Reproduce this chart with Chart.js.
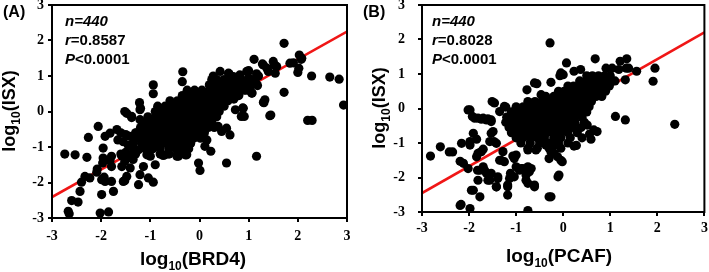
<!DOCTYPE html>
<html><head><meta charset="utf-8">
<script src="https://cdn.jsdelivr.net/npm/chart.js@4/dist/chart.umd.min.js"></script>
<style>
html,body{margin:0;padding:0;background:#fff;width:709px;height:272px;overflow:hidden}
canvas{position:absolute;top:0}
#ca{left:0}
#cb{left:355px}
</style></head><body>
<canvas id="ca" width="355" height="272"></canvas>
<canvas id="cb" width="354" height="272"></canvas>
<script>
// ---------- DATA ----------
const tickValues = [-3, -2, -1, 0, 1, 2, 3];
const titleXA = ['log', '10', '(BRD4)'];
const titleXB = ['log', '10', '(PCAF)'];
const titleY = ['log', '10', '(ISX)'];
const statsA = ['n=440', '0.8587', '0.0001'];
const statsB = ['n=440', '0.8028', '0.0001'];
const fitXA = [-3, 3];
const fitYA = [-2.41, 2.25];
const fitXB = [-3, 3];
const fitYB = [-2.45, 2.21];

// Panel A: log10(BRD4) vs log10(ISX)
const pointsA = [
 [-2.74,-1.2],[-2.53,-1.22],[-2.29,-1.29],[-2.26,-0.73],[-2.06,-0.42],[-1.96,-1.03],[-1.92,-0.7],[-1.82,-0.61],
 [-1.79,-1.26],[-1.68,-0.51],[-1.48,-0.05],[-1.21,0.05],[-1.38,-0.17],[-1.21,-0.23],[-1.58,-1.55],[-1.41,-1.59],
 [-2.33,-1.83],[-2.4,-1.99],[-2.23,-1.87],[-2.09,-1.71],[-1.99,-1.92],[-1.96,-1.31],[-1.79,-1.55],[-1.92,-1.97],
 [-1.79,-1.97],[-1.75,-2.25],[-1.99,-2.34],[-2.43,-2.25],[-2.6,-2.51],[-2.47,-2.55],[-2.67,-2.81],[-2.65,-2.88],
 [-2.02,-2.86],[-1.85,-2.83],[-1.24,-2.06],[-0.94,-1.99],[-1.04,-1.87],[-1.14,-1.55],[-1.21,-1.78],[-1.48,-1.83],
 [-1.55,-1.97],[-1.52,-1.41],[-1.41,-1.26],[-1.35,-1.03],[-1.24,-1.08],[-1.07,-1.22],[-1.0,-1.26],[-0.74,-1.24],
 [-0.46,-1.26],[-0.29,-1.22],[-0.02,-1.45],[0.01,-1.66],[0.23,-1.12],[0.55,-1.45],
 [-1.6,-0.6],[-1.5,-0.65],[-1.42,-0.7],[-1.3,-0.75],[-1.55,-0.85],[-1.45,-0.95],[-1.35,-0.9],[-1.6,-1.2],
 [-1.5,-1.15],[-1.45,-1.3],[-1.35,-1.35],[-1.3,-1.2],[-2.08,-1.62],[-1.97,-1.45],[-1.94,-1.85],[-1.82,-1.39],
 [-1.66,-0.8],[-1.58,-1.25],[-1.52,-1.95],[-1.35,-1.17],[-1.28,-0.6],[-1.22,0.25],[-1.2,0.09],[-1.14,-0.98],
 [-1.07,-1.1],[-0.94,0.75],[-0.94,0.5],[-0.9,-1.5],[-1.52,0.0],[-1.38,-0.14],
 [-0.34,1.12],[-0.35,0.84],[0.28,1.0],[0.42,1.13],[0.6,1.06],[0.73,0.05],[0.85,-0.14],[0.89,0.09],
 [0.93,0.85],[1.0,1.15],[1.11,1.47],[1.16,-1.26],[1.07,0.52],[1.33,0.33],[1.31,0.25],[1.45,-0.1],
 [1.52,1.31],[1.54,1.08],[1.72,1.92],[1.72,0.54],[1.91,1.37],[2.02,1.22],[2.03,1.59],[2.07,1.47],
 [2.0,1.1],[2.28,1.0],[2.2,-0.25],[2.29,-0.25],[2.65,0.97],[2.84,0.91],[2.93,0.18],[1.37,1.22],
 [1.28,1.34],[1.16,1.06],[0.59,1.08],[0.69,0.98],[0.82,1.03],[0.96,1.13],[1.3,1.31],[1.4,1.13],
 [1.5,1.41],[1.57,1.27],[1.84,1.36],[2.08,1.5],[1.43,-0.12],[1.3,0.26],[1.18,0.73],[1.06,0.52],
 [0.91,-0.14],[0.88,0.1],[1.1,0.9],[1.2,1.0],[1.0,0.95],[1.15,0.8],[0.9,0.6],[1.0,0.7],[0.8,0.45],[0.7,0.35],
 [0.28,-0.14],[0.38,-0.42],[0.45,-0.56],[0.62,-0.66],[0.55,-0.47],[0.15,-0.8],[0.11,-0.98],[-0.26,-1.22],
 [-0.43,-1.26],[-0.7,-1.22],
 // dense core, row by row
 [0.25,0.9],[0.35,0.9],[0.5,0.9],[0.62,0.9],[0.75,0.9],[0.85,0.9],
 [0.2,0.75],[0.32,0.75],[0.45,0.75],[0.55,0.75],[0.7,0.75],[0.8,0.75],[0.95,0.75],[1.05,0.75],
 [-0.25,0.6],[-0.1,0.6],[0.05,0.6],[0.2,0.6],[0.3,0.6],[0.42,0.6],[0.55,0.6],[0.68,0.6],[0.82,0.6],[0.95,0.6],
 [-0.35,0.45],[-0.2,0.45],[-0.05,0.45],[0.08,0.45],[0.2,0.45],[0.33,0.45],[0.45,0.45],[0.6,0.45],[0.75,0.45],
 [-0.6,0.3],[-0.45,0.3],[-0.3,0.3],[-0.18,0.3],[-0.05,0.3],[0.08,0.3],[0.2,0.3],[0.32,0.3],[0.45,0.3],[0.58,0.3],
 [-0.85,0.15],[-0.7,0.15],[-0.55,0.15],[-0.4,0.15],[-0.28,0.15],[-0.15,0.15],[0,0.15],[0.12,0.15],[0.25,0.15],[0.38,0.15],[0.5,0.15],
 [-0.9,0.0],[-0.75,0.0],[-0.6,0.0],[-0.48,0.0],[-0.35,0.0],[-0.22,0.0],[-0.1,0.0],[0.02,0.0],[0.15,0.0],[0.28,0.0],[0.4,0.0],
 [-1.05,-0.15],[-0.9,-0.15],[-0.78,-0.15],[-0.65,-0.15],[-0.52,-0.15],[-0.4,-0.15],[-0.28,-0.15],[-0.15,-0.15],[-0.02,-0.15],[0.1,-0.15],[0.22,-0.15],[0.35,-0.15],
 [-1.12,-0.3],[-1.0,-0.3],[-0.88,-0.3],[-0.75,-0.3],[-0.62,-0.3],[-0.5,-0.3],[-0.38,-0.3],[-0.25,-0.3],[-0.12,-0.3],[0,-0.3],[0.12,-0.3],[0.25,-0.3],
 [-1.2,-0.45],[-1.08,-0.45],[-0.95,-0.45],[-0.82,-0.45],[-0.7,-0.45],[-0.58,-0.45],[-0.45,-0.45],[-0.32,-0.45],[-0.2,-0.45],[-0.08,-0.45],[0.05,-0.45],[0.18,-0.45],[0.3,-0.45],
 [-1.3,-0.6],[-1.15,-0.6],[-1.02,-0.6],[-0.9,-0.6],[-0.78,-0.6],[-0.65,-0.6],[-0.52,-0.6],[-0.4,-0.6],[-0.28,-0.6],[-0.15,-0.6],[-0.02,-0.6],[0.1,-0.6],
 [-1.25,-0.75],[-1.12,-0.75],[-1.0,-0.75],[-0.88,-0.75],[-0.75,-0.75],[-0.62,-0.75],[-0.5,-0.75],[-0.38,-0.75],[-0.25,-0.75],[-0.12,-0.75],[0.02,-0.75],
 [-1.18,-0.9],[-1.05,-0.9],[-0.92,-0.9],[-0.8,-0.9],[-0.68,-0.9],[-0.55,-0.9],[-0.42,-0.9],[-0.3,-0.9],[-0.18,-0.9],
 [-1.1,-1.05],[-0.95,-1.05],[-0.8,-1.05],[-0.62,-1.05],[-0.48,-1.05],[-0.35,-1.05],[-0.22,-1.05],
 [-0.8,-1.2],[-0.62,-1.2],[-0.45,-1.2],[-0.3,-1.2]
];

// Panel B: log10(PCAF) vs log10(ISX)
const pointsB = [
 [-2.82,-1.38],[-2.61,-1.11],[-2.42,-1.26],[-2.35,-1.26],[-2.19,-1.53],[-2.12,-1.59],[-2.16,-1.01],[-2.17,-2.78],
 [-2.19,-2.81],[-1.98,-2.9],[-1.95,-2.37],[-2.02,-1.74],[-1.98,-1.06],[-2.02,-0.04],[-1.93,-0.23],[-1.81,-0.28],
 [-1.7,-0.28],[-1.6,-0.3],[-1.77,-2.56],[-1.81,-2.08],[-1.82,-1.79],[-1.84,-1.4],[-1.74,-1.25],[-1.7,-1.69],
 [-1.63,-1.88],[-1.56,-2.08],[-1.53,-0.33],[-1.51,0.2],[-1.49,-0.67],[-1.47,-0.96],[-1.42,-2.27],[-1.39,-2.03],
 [-1.32,-1.5],[-1.28,-1.25],[-1.22,0.04],[-1.18,-2.51],[-1.18,-2.22],[-1.12,-1.88],[-1.07,-1.38],[-1.0,-1.69],
 [-0.89,-1.74],[-0.82,-1.79],[-0.75,-1.69],[-0.68,-1.74],[-0.79,-2.08],[-0.75,-2.17],[-0.61,-2.22],[-0.75,-2.96],
 [-0.77,0.54],[-0.61,0.74],[-0.56,0.72],[-0.47,0.4],[-0.37,0.35],[-0.26,0.76],[-0.28,1.9],[-0.26,-2.56],
 [-0.3,-1.45],[-0.19,-1.3],[-0.12,-1.4],[-0.02,-1.54],[-0.11,-1.98],[-0.07,0.95],[0.0,0.98],[0.07,1.32],
 [0.23,1.08],[0.37,1.13],[-0.05,1.03],[0.23,-1.09],[0.28,-1.07],[0.51,-0.48],[0.65,-0.62],[0.72,-0.67],
 [0.56,-0.74],[0.59,-0.89],[0.68,1.44],[0.51,0.83],[1.04,1.17],[1.21,1.37],[1.35,1.44],[1.39,1.17],
 [1.56,1.08],[1.95,1.17],[1.91,0.79],[1.32,0.83],[1.18,1.13],[1.11,-0.23],[1.32,-0.33],[2.37,-0.46],
 [1.04,0.79],[0.93,0.62],[0.85,0.85],[0.91,1.17],[1.34,1.17],
 [-1.98,-0.96],[-1.91,-0.72],[-1.84,-0.89],[-1.81,-1.3],[-1.7,-1.18],[-1.56,-0.96],[-1.53,-0.72],[-1.42,-1.01],
 [-1.46,0.16],[-1.35,-0.09],[-1.25,0.06],[-1.98,-0.04],[-1.88,-0.28],[-1.74,-0.31],[-1.63,-0.33],[-1.53,-0.38],
 [-1.77,-1.79],[-1.67,-1.79],[-1.6,-2.08],[-1.53,-1.88],[-1.39,-1.98],[-1.35,-1.5],[-1.25,-1.54],[-1.14,-2.03],
 [-1.04,-1.98],[-0.93,-1.79],[-0.86,-1.74],[-0.79,-1.93],[-0.72,-1.83],[-0.61,-2.27],[-1.0,-1.35],[-1.04,-1.45],
 [-0.75,-1.2],[-0.58,-1.2],[-0.37,-1.06],[-0.26,-1.25],[-0.19,-1.06],[-0.05,-1.5],[-0.09,-1.93],[-0.3,-2.56],
 [-1.18,-2.27],[-1.42,-2.27],[-1.91,-2.37],
 // dense core, row by row
 [0.5,0.95],[0.62,0.95],[0.75,0.95],[0.88,0.95],[1.0,0.95],
 [0.35,0.8],[0.48,0.8],[0.6,0.8],[0.72,0.8],[0.85,0.8],[0.98,0.8],[1.1,0.8],
 [0.1,0.65],[0.22,0.65],[0.35,0.65],[0.48,0.65],[0.6,0.65],[0.72,0.65],[0.85,0.65],[0.98,0.65],
 [-0.1,0.5],[0.02,0.5],[0.15,0.5],[0.28,0.5],[0.4,0.5],[0.52,0.5],[0.65,0.5],[0.78,0.5],[0.9,0.5],
 [-0.2,0.35],[-0.05,0.35],[0.08,0.35],[0.2,0.35],[0.32,0.35],[0.45,0.35],[0.58,0.35],[0.7,0.35],[0.82,0.35],
 [-0.75,0.2],[-0.6,0.2],[-0.45,0.2],[-0.3,0.2],[-0.15,0.2],[-0.02,0.2],[0.1,0.2],[0.22,0.2],[0.35,0.2],[0.48,0.2],[0.6,0.2],
 [-1.0,0.05],[-0.85,0.05],[-0.7,0.05],[-0.55,0.05],[-0.4,0.05],[-0.25,0.05],[-0.1,0.05],[0.02,0.05],[0.15,0.05],[0.28,0.05],[0.4,0.05],[0.55,0.05],
 [-1.1,-0.1],[-0.95,-0.1],[-0.8,-0.1],[-0.65,-0.1],[-0.5,-0.1],[-0.35,-0.1],[-0.2,-0.1],[-0.05,-0.1],[0.08,-0.1],[0.2,-0.1],[0.35,-0.1],[0.5,-0.1],
 [-1.2,-0.25],[-1.05,-0.25],[-0.9,-0.25],[-0.75,-0.25],[-0.6,-0.25],[-0.45,-0.25],[-0.3,-0.25],[-0.15,-0.25],[0,-0.25],[0.12,-0.25],[0.25,-0.25],[0.4,-0.25],
 [-1.22,-0.4],[-1.08,-0.4],[-0.95,-0.4],[-0.8,-0.4],[-0.65,-0.4],[-0.5,-0.4],[-0.35,-0.4],[-0.2,-0.4],[-0.05,-0.4],[0.1,-0.4],[0.25,-0.4],[0.45,-0.4],
 [-1.15,-0.55],[-1.0,-0.55],[-0.85,-0.55],[-0.7,-0.55],[-0.55,-0.55],[-0.4,-0.55],[-0.25,-0.55],[-0.1,-0.55],[0.05,-0.55],[0.2,-0.55],[0.38,-0.55],
 [-1.1,-0.7],[-0.95,-0.7],[-0.8,-0.7],[-0.65,-0.7],[-0.5,-0.7],[-0.35,-0.7],[-0.2,-0.7],[-0.05,-0.7],[0.1,-0.7],[0.3,-0.7],
 [-1.0,-0.85],[-0.85,-0.85],[-0.7,-0.85],[-0.55,-0.85],[-0.4,-0.85],[-0.2,-0.85],[-0.05,-0.85],[0.15,-0.85],[0.4,-0.85],
 [-0.9,-1.0],[-0.7,-1.0],[-0.5,-1.0],[-0.3,-1.0],[-0.1,-1.0],[0.1,-1.0],
 [-0.75,-1.15],[-0.55,-1.15],[-0.3,-1.15],[-0.05,-1.15]
];

// ---------- DRAWING ----------
const SANS = '"Liberation Sans", Arial, sans-serif';
const SERIF = '"Liberation Serif", "Times New Roman", serif';

function drawRich(ctx, parts, x, y, align, rotate) {
  ctx.save();
  ctx.translate(x, y);
  if (rotate) ctx.rotate(-Math.PI / 2);
  ctx.textBaseline = 'alphabetic';
  ctx.textAlign = 'left';
  let total = 0;
  parts.forEach(p => {
    ctx.font = (p.italic ? 'italic ' : '') + 'bold ' + p.size + 'px ' + SANS;
    p.w = ctx.measureText(p.t).width;
    total += p.w;
  });
  let cx = align === 'center' ? -total / 2 : 0;
  parts.forEach(p => {
    ctx.font = (p.italic ? 'italic ' : '') + 'bold ' + p.size + 'px ' + SANS;
    ctx.fillStyle = '#000';
    ctx.fillText(p.t, cx, p.dy || 0);
    cx += p.w;
  });
  ctx.restore();
}

function makePanel(id, points, fitX, fitY, titleX, stats, cfg) {
  const decor = {
    id: 'decor_' + id,
    afterDraw(chart) {
      const ctx = chart.ctx;
      const a = chart.chartArea;
      ctx.save();
      ctx.strokeStyle = '#000';
      ctx.lineWidth = 2;
      ctx.strokeRect(a.left, a.top, a.right - a.left, a.bottom - a.top);
      ctx.restore();
      drawRich(ctx, [{t: cfg.letter, size: 16}], cfg.letterX, 17, 'left', false);
      drawRich(ctx, [{t: stats[0], size: 15, italic: true}], cfg.statX, 26, 'left', false);
      drawRich(ctx, [{t: 'r', size: 15, italic: true}, {t: '=' + stats[1], size: 15}], cfg.statX, 45, 'left', false);
      drawRich(ctx, [{t: 'P', size: 15, italic: true}, {t: '<' + stats[2], size: 15}], cfg.statX, 64, 'left', false);
      drawRich(ctx, [{t: titleX[0], size: 19}, {t: titleX[1], size: 12, dy: 5}, {t: titleX[2], size: 19}],
        cfg.xTitleX, cfg.xTitleY, 'center', false);
      drawRich(ctx, [{t: titleY[0], size: 18}, {t: titleY[1], size: 12, dy: 5}, {t: titleY[2], size: 18}],
        cfg.yTitleX, cfg.yTitleY, 'center', true);
    }
  };
  const tickFont = {family: SERIF, weight: 'bold', size: 14};
  return new Chart(document.getElementById(id), {
    type: 'scatter',
    data: {
      datasets: [
        {
          type: 'scatter',
          data: points.map(p => ({x: p[0], y: p[1]})),
          backgroundColor: '#000',
          borderWidth: 0,
          pointRadius: 4.6,
          pointHoverRadius: 4.6
        },
        {
          type: 'line',
          data: fitX.map((v, i) => ({x: v, y: fitY[i]})),
          borderColor: 'rgb(240,22,22)',
          borderWidth: 2.6,
          pointRadius: 0,
          fill: false
        }
      ]
    },
    options: {
      responsive: false,
      animation: false,
      devicePixelRatio: 1,
      events: [],
      layout: {padding: {left: 0, top: 5, right: cfg.padRight, bottom: 0}},
      plugins: {legend: {display: false}, tooltip: {enabled: false}},
      scales: {
        x: {
          type: 'linear', min: -3, max: 3,
          afterBuildTicks: s => { s.ticks = tickValues.map(v => ({value: v})); },
          ticks: {font: tickFont, color: '#000', padding: cfg.xTickPad, maxRotation: 0, autoSkip: false},
          grid: {drawOnChartArea: false, drawTicks: true, tickLength: 4, color: '#000', lineWidth: 2},
          border: {display: true, color: '#000', width: 2},
          afterFit: s => { s.height = cfg.xAxisH; s.paddingLeft = 0; s.paddingRight = 0; }
        },
        y: {
          type: 'linear', min: -3, max: 3,
          afterBuildTicks: s => { s.ticks = tickValues.map(v => ({value: v})); },
          ticks: {font: tickFont, color: '#000', padding: cfg.yTickPad, autoSkip: false},
          grid: {drawOnChartArea: false, drawTicks: true, tickLength: 4, color: '#000', lineWidth: 2},
          border: {display: true, color: '#000', width: 2},
          afterFit: s => { s.width = cfg.yAxisW; s.paddingTop = 0; s.paddingBottom = 0; }
        }
      }
    },
    plugins: [decor]
  });
}

makePanel('ca', pointsA, fitXA, fitYA, titleXA, statsA, {
  letter: '(A)', letterX: 3, statX: 65,
  yAxisW: 52, xAxisH: 54, padRight: 8, yTickPad: 4, xTickPad: 6,
  xTitleX: 193, xTitleY: 265, yTitleX: 15, yTitleY: 111
});
makePanel('cb', pointsB, fitXB, fitYB, titleXB, statsB, {
  letter: '(B)', letterX: 8, statX: 77,
  yAxisW: 67, xAxisH: 60, padRight: 2, yTickPad: 13, xTickPad: 4,
  xTitleX: 204, xTitleY: 262, yTitleX: 30, yTitleY: 108
});
</script>
</body></html>
